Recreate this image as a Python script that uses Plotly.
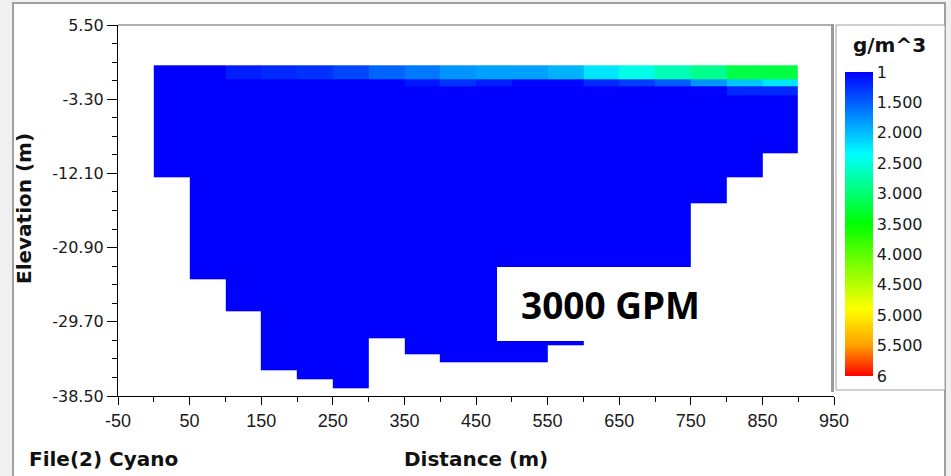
import plotly.graph_objects as go

# ---------------- data ----------------
distance_edges = [0, 50, 100, 150, 200, 250, 300, 350, 400, 450, 500,
                  550, 600, 650, 700, 750, 800, 850, 900]
# bottom elevation (m) of each 50 m column
bottom_elev = [-12.6, -24.6, -28.4, -35.5, -36.5, -37.6, -31.6, -33.5, -34.5,
               -34.5, -34.5, -32.5, -31.0, -29.0, -27.0, -15.7, -12.6, -9.7]
# surface layer boundaries (m): water surface, layer1 bottom, layer2 bottom, layer3 bottom
surface_layers = [0.72, -0.94, -1.82, -2.89]
# concentrations g/m^3
layer1_conc = [1.00, 1.00, 1.16, 1.21, 1.26, 1.37, 1.53, 1.64, 1.79,
               1.85, 1.85, 1.95, 2.22, 2.46, 2.69, 2.87, 3.18, 3.20]
layer2_conc = [1.00, 1.00, 1.00, 1.00, 1.00, 1.00, 1.00, 1.11, 1.26,
               1.16, 1.03, 1.03, 1.21, 1.32, 1.48, 1.79, 2.06, 2.22]
layer3_conc = [1.00, 1.00, 1.00, 1.00, 1.00, 1.00, 1.00, 1.00, 1.00,
               1.00, 1.00, 1.00, 1.00, 1.00, 1.00, 1.00, 1.21, 1.21]
deep_conc = 1.0

x_tickvals = [-50, 50, 150, 250, 350, 450, 550, 650, 750, 850, 950]
x_ticktext = ["-50", "50", "150", "250", "350", "450", "550", "650", "750", "850", "950"]
y_tickvals = [5.5, -3.3, -12.1, -20.9, -29.7, -38.5]
y_ticktext = ["5.50", "-3.30", "-12.10", "-20.90", "-29.70", "-38.50"]
cb_tickvals = [1, 1.5, 2, 2.5, 3, 3.5, 4, 4.5, 5, 5.5, 6]
cb_ticktext = ["1", "1.500", "2.000", "2.500", "3.000", "3.500", "4.000",
               "4.500", "5.000", "5.500", "6"]

# ---------------- grid build ----------------
# The legend in the reference runs from 1 (top) to 6 (bottom), so the colour
# axis is built on the negated concentration.
y_edges = sorted(set(round(v, 3) for v in surface_layers + bottom_elev))
z = []
for lo, hi in zip(y_edges[:-1], y_edges[1:]):
    row = []
    for c, bot in enumerate(bottom_elev):
        if lo < bot - 1e-6:
            row.append(None)
        elif hi > surface_layers[1] + 1e-6:
            row.append(-layer1_conc[c])
        elif hi > surface_layers[2] + 1e-6:
            row.append(-layer2_conc[c])
        elif hi > surface_layers[3] + 1e-6:
            row.append(-layer3_conc[c])
        else:
            row.append(-deep_conc)
    z.append(row)

# minor ticks: halfway between x labels, quarter steps between y labels
x_minor = [(a + b) / 2 for a, b in zip(x_tickvals[:-1], x_tickvals[1:])]
y_minor = [a + (b - a) * f for a, b in zip(y_tickvals[:-1], y_tickvals[1:])
           for f in (0.25, 0.5, 0.75)]

# ---------------- layout helpers ----------------
W, H = 951, 476
L, R, T, B = 118, 834, 25, 396


def px_x(p):
    return (p - L) / (R - L)


def px_y(p):
    return (B - p) / (B - T)


# colours for concentration 6 -> 1 (i.e. negated axis -6 -> -1)
colorscale = [[0.0, "rgb(255,0,0)"], [0.1, "rgb(255,160,0)"],
              [0.22, "rgb(255,255,0)"], [0.5, "rgb(0,255,0)"],
              [0.73, "rgb(0,255,255)"], [1.0, "rgb(0,0,255)"]]

fig = go.Figure(go.Heatmap(
    x=distance_edges, y=y_edges, z=z, zmin=-6, zmax=-1,
    colorscale=colorscale, zsmooth=False, hoverinfo="skip",
    colorbar=dict(
        x=px_x(845), xanchor="left", y=px_y(72), yanchor="top",
        len=(376 - 72) / (B - T), lenmode="fraction",
        thickness=28, thicknessmode="pixels", outlinewidth=0,
        tickvals=[-v for v in cb_tickvals], ticktext=cb_ticktext, ticks="",
        tickfont=dict(family="DejaVu Sans", size=16, color="#1a1a1a"),
        xpad=0, ypad=0,
    ),
))

TITLE_FONT = dict(family="DejaVu Sans", size=20, color="#111111", weight="bold")

fig.update_layout(
    width=W, height=H,
    margin=dict(l=L, r=W - R, t=T, b=H - B, pad=0, autoexpand=False),
    paper_bgcolor="#f0f0f0", plot_bgcolor="white",
    showlegend=False,
    xaxis=dict(
        range=[-50, 950], tickmode="array", tickvals=x_tickvals, ticktext=x_ticktext,
        ticks="outside", ticklen=8, tickcolor="black", tickwidth=1,
        showline=True, linecolor="black", linewidth=1,
        showgrid=False, zeroline=False,
        tickfont=dict(family="Liberation Sans", size=18, color="#1a1a1a"),
        minor=dict(tickmode="array", tickvals=x_minor, ticks="outside",
                   ticklen=5, tickcolor="black", tickwidth=1, showgrid=False),
    ),
    yaxis=dict(
        range=[-38.5, 5.5], tickmode="array", tickvals=y_tickvals, ticktext=y_ticktext,
        ticks="outside", ticklen=10, tickcolor="black", tickwidth=1,
        showline=True, linecolor="black", linewidth=1,
        showgrid=False, zeroline=False,
        tickfont=dict(family="DejaVu Sans", size=16, color="#1a1a1a"),
        minor=dict(tickmode="array", tickvals=y_minor, ticks="outside",
                   ticklen=5, tickcolor="black", tickwidth=1, showgrid=False),
    ),
    shapes=[
        # white panel with frame
        dict(type="rect", xref="paper", yref="paper", layer="below",
             x0=px_x(13), x1=px_x(945), y0=px_y(3), y1=px_y(490),
             fillcolor="white", line=dict(color="#a0a0a0", width=2)),
        # colour bar panel
        dict(type="rect", xref="paper", yref="paper", layer="below",
             x0=px_x(836), x1=px_x(945), y0=px_y(25), y1=px_y(390),
             fillcolor="white", line=dict(color="#a0a0a0", width=1)),
        # plot top border
        dict(type="line", xref="paper", yref="paper", layer="above",
             x0=0, x1=1, y0=1, y1=1, line=dict(color="#606060", width=1)),
        # plot right border
        dict(type="line", xref="paper", yref="paper", layer="above",
             x0=px_x(832.5), x1=px_x(832.5), y0=px_y(24), y1=px_y(392),
             line=dict(color="#9a9a9a", width=3)),
        # label box over the section
        dict(type="rect", xref="paper", yref="paper", layer="above",
             x0=px_x(497), x1=px_x(723), y0=px_y(341), y1=px_y(267),
             fillcolor="white", line=dict(width=0)),
    ],
    annotations=[
        dict(text="3000 GPM", xref="paper", yref="paper",
             x=px_x(610), y=px_y(304), xanchor="center", yanchor="middle",
             showarrow=False,
             font=dict(family="Noto Sans", size=37, color="black", weight="bold")),
        dict(text="Elevation (m)", xref="paper", yref="paper",
             x=px_x(24), y=px_y(209), xanchor="center", yanchor="middle",
             textangle=-90, showarrow=False, font=TITLE_FONT),
        dict(text="Distance (m)", xref="paper", yref="paper",
             x=px_x(476), y=px_y(459), xanchor="center", yanchor="middle",
             showarrow=False, font=TITLE_FONT),
        dict(text="File(2) Cyano", xref="paper", yref="paper",
             x=px_x(27), y=px_y(459), xanchor="left", yanchor="middle",
             showarrow=False, font=TITLE_FONT),
        dict(text="g/m^3", xref="paper", yref="paper",
             x=px_x(889), y=px_y(45), xanchor="center", yanchor="middle",
             showarrow=False, font=TITLE_FONT),
    ],
)

# remove the browser's default page margin so the figure sits at the window origin
fig.write_html(
    "out.html",
    config={"displayModeBar": False},
    post_script="document.body.style.margin='0';document.body.style.overflow='hidden';",
)
